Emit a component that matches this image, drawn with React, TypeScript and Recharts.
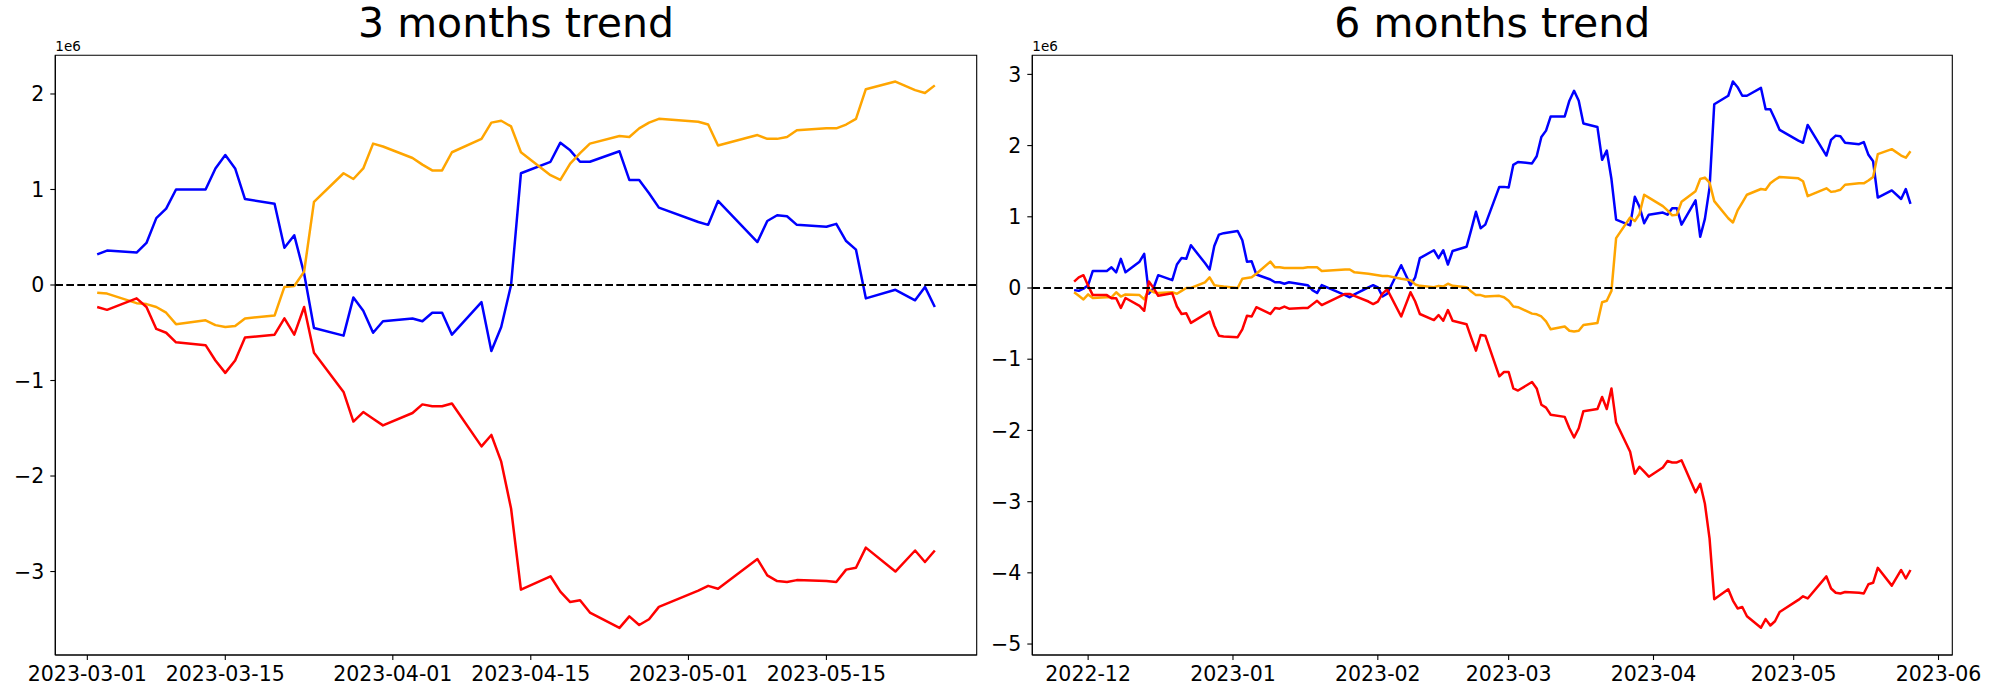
import React from 'react';
import { LineChart, Line, XAxis, YAxis, ReferenceLine, ReferenceArea } from 'recharts';

// ---------- 3 months panel (values in units of 1e6) ----------
const m3Dates = [
  '2023-03-02','2023-03-03','2023-03-06','2023-03-07','2023-03-08','2023-03-09','2023-03-10','2023-03-13','2023-03-14','2023-03-15','2023-03-16','2023-03-17','2023-03-20','2023-03-21','2023-03-22','2023-03-23','2023-03-24','2023-03-27','2023-03-28','2023-03-29','2023-03-30','2023-03-31',
  '2023-04-03','2023-04-04','2023-04-05','2023-04-06','2023-04-07','2023-04-10','2023-04-11','2023-04-12','2023-04-13','2023-04-14','2023-04-17','2023-04-18','2023-04-19','2023-04-20','2023-04-21','2023-04-24','2023-04-25','2023-04-26','2023-04-27','2023-04-28',
  '2023-05-02','2023-05-03','2023-05-04','2023-05-08','2023-05-09','2023-05-10','2023-05-11','2023-05-12','2023-05-15','2023-05-16','2023-05-17','2023-05-18','2023-05-19','2023-05-22','2023-05-24','2023-05-25','2023-05-26',
];
const m3Blue = [
  0.32,0.36,0.34,0.44,0.70,0.80,1.00,1.00,1.22,1.36,1.22,0.90,0.85,0.39,0.52,0.12,-0.45,-0.53,-0.13,-0.27,-0.50,-0.38,
  -0.35,-0.38,-0.29,-0.29,-0.52,-0.18,-0.69,-0.44,0.00,1.17,1.29,1.49,1.41,1.29,1.29,1.40,1.10,1.10,0.96,0.81,
  0.66,0.63,0.88,0.45,0.67,0.73,0.72,0.63,0.61,0.64,0.46,0.37,-0.14,-0.05,-0.16,-0.02,-0.23,
];
const m3Orange = [
  -0.08,-0.09,-0.19,-0.20,-0.23,-0.29,-0.41,-0.37,-0.42,-0.44,-0.43,-0.35,-0.32,-0.02,-0.01,0.14,0.87,1.17,1.11,1.22,1.48,1.45,
  1.33,1.26,1.20,1.20,1.39,1.53,1.70,1.72,1.66,1.39,1.15,1.10,1.27,1.38,1.48,1.56,1.55,1.64,1.70,1.74,
  1.71,1.68,1.46,1.57,1.53,1.53,1.55,1.62,1.64,1.64,1.68,1.74,2.05,2.13,2.04,2.01,2.09,
];
const m3Red = [
  -0.23,-0.26,-0.14,-0.23,-0.46,-0.50,-0.60,-0.63,-0.79,-0.92,-0.79,-0.55,-0.52,-0.35,-0.52,-0.23,-0.71,-1.12,-1.43,-1.33,-1.40,-1.47,
  -1.34,-1.25,-1.27,-1.27,-1.24,-1.69,-1.57,-1.85,-2.34,-3.19,-3.05,-3.21,-3.32,-3.30,-3.43,-3.59,-3.47,-3.56,-3.50,-3.37,
  -3.20,-3.15,-3.18,-2.87,-3.04,-3.10,-3.11,-3.09,-3.10,-3.11,-2.98,-2.96,-2.75,-3.00,-2.78,-2.90,-2.78,
];
const m3XTicks = ['2023-03-01','2023-03-15','2023-04-01','2023-04-15','2023-05-01','2023-05-15'];
const m3XTickLabels = ['2023-03-01','2023-03-15','2023-04-01','2023-04-15','2023-05-01','2023-05-15'];
const m3YTicks = [-3,-2,-1,0,1,2];

// ---------- 6 months panel (values in units of 1e6) ----------
const m6Dates = [
  '2022-11-28','2022-11-29','2022-11-30',
  '2022-12-01','2022-12-02','2022-12-05','2022-12-06','2022-12-07','2022-12-08','2022-12-09','2022-12-12','2022-12-13','2022-12-14','2022-12-15','2022-12-16','2022-12-19','2022-12-20','2022-12-21','2022-12-22','2022-12-23','2022-12-26','2022-12-27','2022-12-28','2022-12-29','2022-12-30',
  '2023-01-02','2023-01-03','2023-01-04','2023-01-05','2023-01-06','2023-01-09','2023-01-10','2023-01-11','2023-01-12','2023-01-13','2023-01-16','2023-01-17','2023-01-18','2023-01-19','2023-01-20','2023-01-25','2023-01-26','2023-01-27','2023-01-30','2023-01-31',
  '2023-02-01','2023-02-02','2023-02-03','2023-02-06','2023-02-07','2023-02-08','2023-02-09','2023-02-10','2023-02-13','2023-02-14','2023-02-15','2023-02-16','2023-02-17','2023-02-20','2023-02-21','2023-02-22','2023-02-23','2023-02-24','2023-02-27','2023-02-28',
  '2023-03-01','2023-03-02','2023-03-03','2023-03-06','2023-03-07','2023-03-08','2023-03-09','2023-03-10','2023-03-13','2023-03-14','2023-03-15','2023-03-16','2023-03-17','2023-03-20','2023-03-21','2023-03-22','2023-03-23','2023-03-24','2023-03-27','2023-03-28','2023-03-29','2023-03-30','2023-03-31',
  '2023-04-03','2023-04-04','2023-04-05','2023-04-06','2023-04-07','2023-04-10','2023-04-11','2023-04-12','2023-04-13','2023-04-14','2023-04-17','2023-04-18','2023-04-19','2023-04-20','2023-04-21','2023-04-24','2023-04-25','2023-04-26','2023-04-27','2023-04-28',
  '2023-05-02','2023-05-03','2023-05-04','2023-05-08','2023-05-09','2023-05-10','2023-05-11','2023-05-12','2023-05-15','2023-05-16','2023-05-17','2023-05-18','2023-05-19','2023-05-22','2023-05-24','2023-05-25','2023-05-26',
];
const m6Blue = [
  -0.03,-0.04,-0.01,
  0.04,0.24,0.24,0.29,0.22,0.41,0.22,0.37,0.48,-0.08,0.00,0.18,0.11,0.33,0.42,0.41,0.60,0.35,0.26,0.59,0.75,0.77,
  0.80,0.67,0.37,0.375,0.19,0.12,0.08,0.08,0.06,0.08,0.05,0.04,-0.03,-0.07,0.04,-0.10,-0.13,-0.09,0.01,0.04,
  0.01,-0.12,-0.08,0.32,0.18,0.04,0.15,0.42,0.53,0.42,0.53,0.33,0.52,0.58,0.82,1.07,0.84,0.89,1.42,1.42,
  1.41,1.73,1.77,1.75,1.85,2.12,2.21,2.41,2.41,2.63,2.77,2.63,2.31,2.26,1.80,1.93,1.53,0.96,0.88,1.28,1.14,0.91,1.03,
  1.06,1.03,1.12,1.12,0.89,1.23,0.72,0.97,1.41,2.58,2.70,2.90,2.82,2.70,2.70,2.81,2.51,2.51,2.37,2.22,
  2.07,2.04,2.29,1.86,2.08,2.14,2.13,2.04,2.02,2.05,1.87,1.78,1.27,1.37,1.25,1.39,1.18,
];
const m6Orange = [
  -0.06,-0.11,-0.16,
  -0.09,-0.14,-0.13,-0.13,-0.06,-0.12,-0.09,-0.10,-0.16,-0.02,-0.06,-0.07,-0.06,-0.08,-0.04,0.00,0.00,0.08,0.15,0.04,0.03,0.02,
  0.00,0.13,0.14,0.15,0.20,0.37,0.29,0.29,0.28,0.28,0.28,0.29,0.29,0.29,0.24,0.26,0.26,0.22,0.20,0.19,
  0.18,0.17,0.17,0.13,0.12,0.11,0.05,0.03,0.01,0.03,0.02,0.06,0.03,0.01,-0.05,-0.10,-0.10,-0.12,-0.11,-0.13,
  -0.18,-0.26,-0.27,-0.36,-0.37,-0.40,-0.47,-0.58,-0.54,-0.60,-0.61,-0.60,-0.52,-0.49,-0.20,-0.18,-0.04,0.70,0.99,0.94,1.04,1.31,1.27,
  1.15,1.09,1.02,1.03,1.21,1.36,1.53,1.55,1.48,1.22,0.98,0.92,1.09,1.20,1.31,1.39,1.38,1.47,1.52,1.56,
  1.54,1.50,1.29,1.40,1.35,1.36,1.38,1.45,1.47,1.47,1.51,1.56,1.88,1.95,1.86,1.83,1.92,
];
const m6Red = [
  0.09,0.15,0.18,
  0.03,-0.10,-0.10,-0.145,-0.145,-0.28,-0.14,-0.25,-0.32,0.09,0.00,-0.11,-0.075,-0.26,-0.365,-0.355,-0.49,-0.37,-0.33,-0.53,-0.67,-0.68,
  -0.69,-0.58,-0.39,-0.40,-0.27,-0.365,-0.28,-0.29,-0.26,-0.29,-0.28,-0.28,-0.23,-0.18,-0.24,-0.084,-0.084,-0.11,-0.19,-0.225,
  -0.19,-0.08,-0.02,-0.40,-0.23,-0.06,-0.19,-0.365,-0.45,-0.38,-0.46,-0.31,-0.46,-0.51,-0.70,-0.88,-0.66,-0.67,-1.24,-1.18,
  -1.18,-1.41,-1.44,-1.32,-1.41,-1.64,-1.68,-1.78,-1.81,-1.97,-2.10,-1.97,-1.73,-1.70,-1.53,-1.70,-1.41,-1.89,-2.30,-2.61,-2.51,-2.58,-2.65,
  -2.52,-2.43,-2.45,-2.45,-2.42,-2.87,-2.75,-3.03,-3.52,-4.37,-4.23,-4.39,-4.50,-4.48,-4.61,-4.77,-4.65,-4.74,-4.68,-4.55,
  -4.38,-4.33,-4.36,-4.05,-4.22,-4.28,-4.29,-4.27,-4.28,-4.29,-4.16,-4.14,-3.93,-4.18,-3.96,-4.08,-3.96,
];
const m6XTicks = ['2022-12-01','2023-01-01','2023-02-01','2023-03-01','2023-04-01','2023-05-01','2023-06-01'];
const m6XTickLabels = ['2022-12','2023-01','2023-02','2023-03','2023-04','2023-05','2023-06'];
const m6YTicks = [-5,-4,-3,-2,-1,0,1,2,3];

const titles = ['3 months trend', '6 months trend'];
const scaleLabel = '1e6';

const FONT = 'DejaVu Sans';
const LINE_W = 2.5;
const toDay = (s: string) => {
  const [y, m, d] = s.split('-').map(Number);
  return Date.UTC(y, m - 1, d) / 86400000;
};
const fmtY = (v: number) => (v < 0 ? '\u2212' + Math.abs(v) : String(v));

type PanelProps = {
  dates: string[]; blue: number[]; orange: number[]; red: number[];
  xTicks: string[]; xTickLabels: string[]; yTicks: number[]; yDomain: [number, number];
  left: number; width: number; yAxisWidth: number; marginRight: number;
};

function Panel(p: PanelProps) {
  const data = p.dates.map((d, i) => ({ t: toDay(d), blue: p.blue[i], orange: p.orange[i], red: p.red[i] }));
  const t0 = data[0].t;
  const t1 = data[data.length - 1].t;
  const pad = (t1 - t0) * 0.05;
  const xDomain: [number, number] = [t0 - pad, t1 + pad];
  const tickVals = p.xTicks.map(toDay);
  const labelMap: Record<number, string> = {};
  tickVals.forEach((v, i) => { labelMap[v] = p.xTickLabels[i]; });
  const tickStyle = { fontSize: 20.5, fontFamily: FONT, fill: '#000' };
  return (
    <div style={{ position: 'absolute', left: p.left, top: 0 }}>
      <LineChart width={p.width} height={700} data={data}
        margin={{ top: 55.3, right: p.marginRight, bottom: 0, left: 0 }}>
        <XAxis dataKey="t" type="number" domain={xDomain} allowDataOverflow ticks={tickVals}
          interval={0} tickFormatter={(v: number) => labelMap[v] ?? ''} height={45}
          tick={tickStyle} tickSize={5} tickMargin={6}
          tickLine={{ stroke: '#000', strokeWidth: 1.1 }} axisLine={{ stroke: '#000', strokeWidth: 1.1 }} />
        <YAxis type="number" domain={p.yDomain} allowDataOverflow ticks={p.yTicks} interval={0}
          tickFormatter={fmtY} width={p.yAxisWidth}
          tick={tickStyle} tickSize={5} tickMargin={6}
          tickLine={{ stroke: '#000', strokeWidth: 1.1 }} axisLine={{ stroke: '#000', strokeWidth: 1.1 }} />
        <Line type="linear" dataKey="blue" stroke="#0000ff" strokeWidth={LINE_W} dot={false}
          activeDot={false} isAnimationActive={false} strokeLinejoin="round" />
        <Line type="linear" dataKey="orange" stroke="#ffa500" strokeWidth={LINE_W} dot={false}
          activeDot={false} isAnimationActive={false} strokeLinejoin="round" />
        <Line type="linear" dataKey="red" stroke="#ff0000" strokeWidth={LINE_W} dot={false}
          activeDot={false} isAnimationActive={false} strokeLinejoin="round" />
        <ReferenceLine y={0} stroke="#000" strokeWidth={2.2} strokeDasharray="7.7 3.3" />
        <ReferenceArea x1={xDomain[0]} x2={xDomain[1]} y1={p.yDomain[0]} y2={p.yDomain[1]}
          fill="none" fillOpacity={0} stroke="#000" strokeWidth={1.1} ifOverflow="extendDomain" />
      </LineChart>
    </div>
  );
}

export default function App() {
  return (
    <div style={{ position: 'fixed', left: 0, top: 0, width: 2000, height: 700, background: '#fff', overflow: 'hidden' }}>
      <Panel dates={m3Dates} blue={m3Blue} orange={m3Orange} red={m3Red}
        xTicks={m3XTicks} xTickLabels={m3XTickLabels} yTicks={m3YTicks} yDomain={[-3.874, 2.405]}
        left={0} width={990} yAxisWidth={55.3} marginRight={13.3} />
      <Panel dates={m6Dates} blue={m6Blue} orange={m6Orange} red={m6Red}
        xTicks={m6XTicks} xTickLabels={m6XTickLabels} yTicks={m6YTicks} yDomain={[-5.154, 3.268]}
        left={990} width={1010} yAxisWidth={42.3} marginRight={47.7} />
      <svg width={2000} height={700} style={{ position: 'absolute', left: 0, top: 0, pointerEvents: 'none' }}>
        <text x={516} y={37.3} textAnchor="middle" fontFamily={FONT} fontSize={41} fill="#000">{titles[0]}</text>
        <text x={1492.3} y={37.3} textAnchor="middle" fontFamily={FONT} fontSize={41} fill="#000">{titles[1]}</text>
        <text x={55.3} y={50.7} fontFamily={FONT} fontSize={13.5} fill="#000">{scaleLabel}</text>
        <text x={1032.3} y={50.7} fontFamily={FONT} fontSize={13.5} fill="#000">{scaleLabel}</text>
      </svg>
    </div>
  );
}
